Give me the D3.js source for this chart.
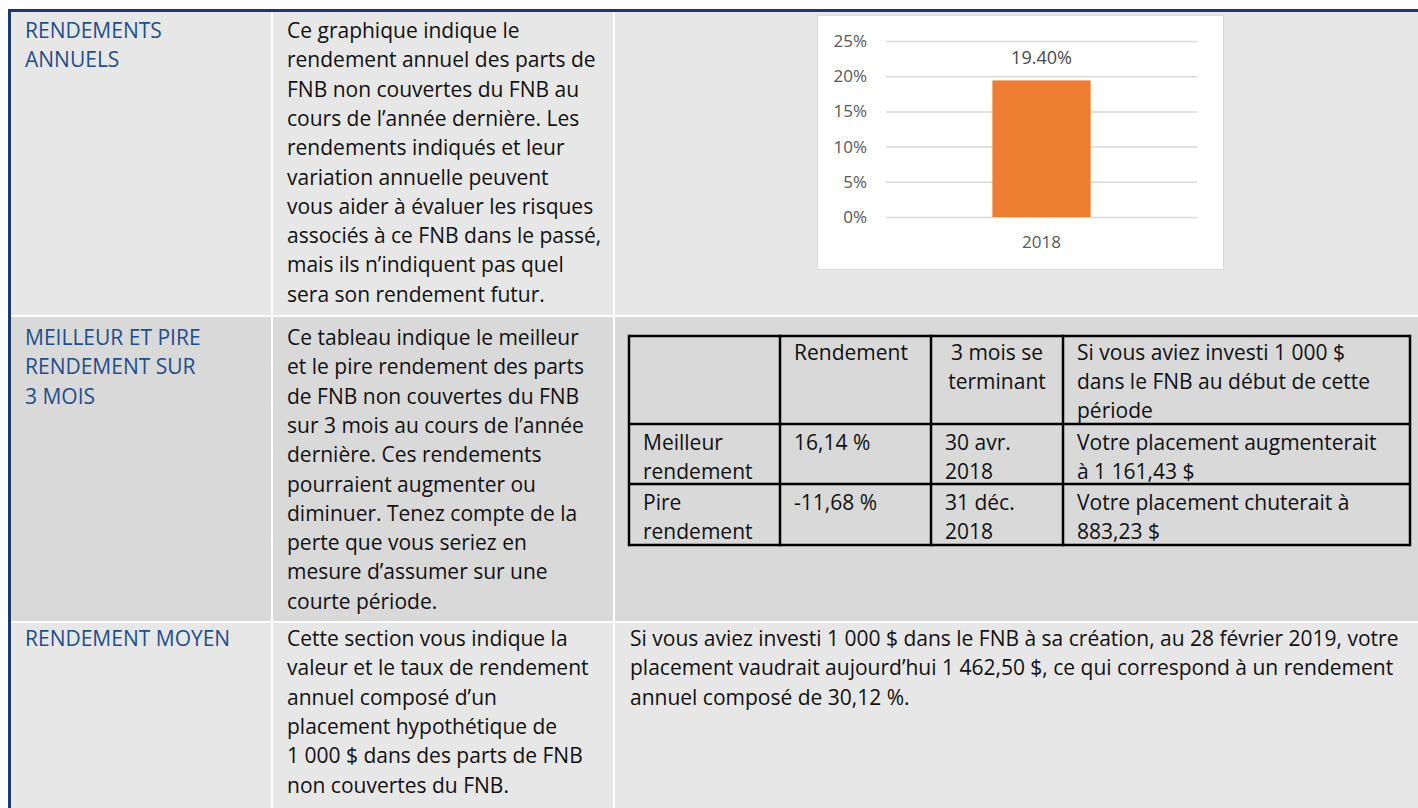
<!DOCTYPE html>
<html>
<head>
<meta charset="utf-8">
<script src="https://cdn.jsdelivr.net/npm/d3@7"></script>
<style>
  body { margin: 0; background: #fff; }
  text { font-family: "Open Sans", sans-serif; }
</style>
</head>
<body>
<script>
// ---- data ----
var sectionTitles = [
  ["RENDEMENTS", "ANNUELS"],
  ["MEILLEUR ET PIRE", "RENDEMENT SUR", "3 MOIS"],
  ["RENDEMENT MOYEN"]
];
var sectionDescriptions = [
  ["Ce graphique indique le", "rendement annuel des parts de", "FNB non couvertes du FNB au",
   "cours de l’année dernière. Les", "rendements indiqués et leur", "variation annuelle peuvent",
   "vous aider à évaluer les risques", "associés à ce FNB dans le passé,",
   "mais ils n’indiquent pas quel", "sera son rendement futur."],
  ["Ce tableau indique le meilleur", "et le pire rendement des parts", "de FNB non couvertes du FNB",
   "sur 3 mois au cours de l’année", "dernière. Ces rendements", "pourraient augmenter ou",
   "diminuer. Tenez compte de la", "perte que vous seriez en", "mesure d’assumer sur une",
   "courte période."],
  ["Cette section vous indique la", "valeur et le taux de rendement", "annuel composé d’un",
   "placement hypothétique de", "1 000 $ dans des parts de FNB", "non couvertes du FNB."]
];
var chartYears = ["2018"];
var chartReturns = [19.40];
var yTickValues = [0, 5, 10, 15, 20, 25];

var tableHeader = [[""], ["Rendement"], ["3 mois se", "terminant"],
  ["Si vous aviez investi 1 000 $", "dans le FNB au début de cette", "période"]];
var tableRows = [
  [["Meilleur", "rendement"], ["16,14 %"], ["30 avr.", "2018"], ["Votre placement augmenterait", "à 1 161,43 $"]],
  [["Pire", "rendement"], ["-11,68 %"], ["31 déc.", "2018"], ["Votre placement chuterait à", "883,23 $"]]
];
var averageText = [
  "Si vous aviez investi 1 000 $ dans le FNB à sa création, au 28 février 2019, votre",
  "placement vaudrait aujourd’hui 1 462,50 $, ce qui correspond à un rendement",
  "annuel composé de 30,12 %."
];

// ---- layout ----
var W = 1418, H = 808;
var colEdges = [11, 271, 273, 613, 615, W];   // cell starts / ends
var rowTops = [12, 317, 623], rowBottoms = [315, 621, H];
var rowFill = ["#e7e7e7", "#d9d9d9", "#e7e7e7"];
var firstBase = [38, 345, 646], lineGap = 29.3, fontSz = 21;

var svg = d3.select("body").append("svg")
    .attr("width", W)
    .attr("height", H);

svg.append("rect").attr("width", W).attr("height", H).attr("fill", "#fff");

// helper: stacked lines of text
function addLines(g, x, y, lines, gap, size, color, anchor) {
  var t = g.append("text")
      .attr("x", x).attr("y", y)
      .attr("font-size", size)
      .attr("fill", color)
      .attr("text-anchor", anchor || "start");
  lines.forEach(function(s, i) {
    t.append("tspan").attr("x", x).attr("y", y + i * gap).text(s);
  });
  return t;
}

// cell backgrounds, white gaps between them come from the spacing
rowTops.forEach(function(top, r) {
  var h = rowBottoms[r] - top;
  [[colEdges[0], colEdges[1]], [colEdges[2], colEdges[3]], [colEdges[4], colEdges[5]]].forEach(function(c) {
    svg.append("rect")
        .attr("x", c[0]).attr("y", top)
        .attr("width", c[1] - c[0]).attr("height", h)
        .attr("fill", rowFill[r]);
  });
});

// dark blue frame on top and left
svg.append("rect").attr("x", 8).attr("y", 9).attr("width", W - 8).attr("height", 3).attr("fill", "#1b3a6b");
svg.append("rect").attr("x", 8).attr("y", 9).attr("width", 3).attr("height", H - 9).attr("fill", "#1b3a6b");

// titles and descriptions
sectionTitles.forEach(function(lines, r) {
  addLines(svg, 25, firstBase[r], lines, lineGap, fontSz, "#1f4e8c");
});
sectionDescriptions.forEach(function(lines, r) {
  addLines(svg, 287, firstBase[r], lines, lineGap, fontSz, "#111");
});

// ---- bar chart ----
var box = {x: 817, y: 15, w: 406, h: 254};
svg.append("rect")
    .attr("x", box.x + 0.5).attr("y", box.y + 0.5)
    .attr("width", box.w).attr("height", box.h)
    .attr("fill", "#fff").attr("stroke", "#d9d9d9");

var x = d3.scaleBand().domain(chartYears).range([886, 1197]).padding(0.52);
var y = d3.scaleLinear().domain([0, 25]).range([217, 41]);

var yAxis = svg.append("g")
    .attr("transform", "translate(886,0)")
    .call(d3.axisLeft(y).tickValues(yTickValues).tickSize(-311).tickPadding(19)
      .tickFormat(function(d) { return d + "%"; }));
yAxis.select(".domain").remove();
yAxis.selectAll("line").attr("stroke", "#d9d9d9").attr("stroke-width", 1.5);
yAxis.selectAll("text").attr("font-size", 17).attr("fill", "#595959")
    .style("font-family", "'Open Sans', sans-serif");

var xAxis = svg.append("g")
    .attr("transform", "translate(0,217)")
    .call(d3.axisBottom(x).tickSize(0).tickPadding(19));
xAxis.select(".domain").remove();
xAxis.selectAll("text").attr("font-size", 17).attr("fill", "#595959")
    .style("font-family", "'Open Sans', sans-serif");

svg.selectAll(".bar")
    .data(chartReturns)
  .enter().append("rect")
    .attr("class", "bar")
    .attr("x", function(d, i) { return x(chartYears[i]); })
    .attr("y", function(d) { return y(d); })
    .attr("width", x.bandwidth())
    .attr("height", function(d) { return y(0) - y(d); })
    .attr("fill", "#ed7d31");

svg.selectAll(".barLabel")
    .data(chartReturns)
  .enter().append("text")
    .attr("class", "barLabel")
    .attr("x", function(d, i) { return x(chartYears[i]) + x.bandwidth() / 2; })
    .attr("y", function(d) { return y(d) - 16; })
    .attr("text-anchor", "middle")
    .attr("font-size", 18)
    .attr("fill", "#4a4a4a")
    .text(function(d) { return d.toFixed(2) + "%"; });

// ---- best / worst table ----
var tCols = [629, 780, 931, 1063, 1410];
var tRows = [336, 424, 484, 545];
var tBase = [360, 450, 510];
var tGap = 28.8;
var allRows = [tableHeader].concat(tableRows);

allRows.forEach(function(row, r) {
  row.forEach(function(lines, c) {
    var centered = (r === 0 && c === 2);
    var tx = centered ? (tCols[c] + tCols[c + 1]) / 2 : tCols[c] + 14;
    addLines(svg, tx, tBase[r], lines, tGap, fontSz, "#111", centered ? "middle" : "start");
  });
});

var grid = svg.append("g").attr("stroke", "#000").attr("stroke-width", 2.5).attr("fill", "none");
tRows.forEach(function(yy) {
  grid.append("line").attr("x1", tCols[0]).attr("x2", tCols[tCols.length - 1]).attr("y1", yy).attr("y2", yy);
});
tCols.forEach(function(xx) {
  grid.append("line").attr("x1", xx).attr("x2", xx).attr("y1", tRows[0] - 1.25).attr("y2", tRows[tRows.length - 1] + 1.25);
});

// ---- average return paragraph ----
addLines(svg, 630, firstBase[2], averageText, lineGap, fontSz, "#111");
</script>
</body>
</html>
